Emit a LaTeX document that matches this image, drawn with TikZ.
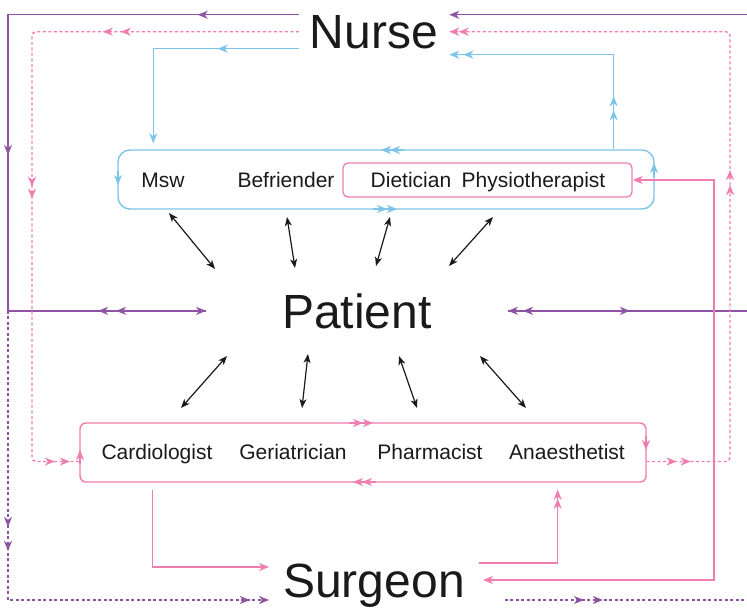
\documentclass[tikz,border=0pt]{standalone}
\usepackage{fontspec}
\setmainfont{Liberation Sans}
\usetikzlibrary{arrows.meta,calc,decorations.markings}
\definecolor{purp}{RGB}{142,84,163}
\definecolor{pnk}{RGB}{240,125,176}
\definecolor{blu}{RGB}{125,197,232}
\definecolor{ink}{RGB}{26,26,26}
\tikzset{
  ln/.style={line width=1.4pt},
  dotline/.style={dash pattern=on 3pt off 2.5pt},
  endtip/.style={-{Stealth[length=10pt,width=8pt,inset=3pt]}},
  bothtip/.style={{Stealth[length=10pt,width=8pt,inset=3pt]}-{Stealth[length=10pt,width=8pt,inset=3pt]}},
  amark/.style={postaction={decorate,decoration={markings,mark=at position #1 with {\arrow{Stealth[length=10pt,width=8pt,inset=3pt]}}}}},
  big/.style={font=\fontsize{48}{56}\selectfont, text=ink, inner ysep=0pt, anchor=base},
  lbl/.style={font=\fontsize{21}{25}\selectfont, text=ink, anchor=base, inner sep=0pt},
  bidir/.style={{Stealth[length=9pt,width=7pt,inset=2.5pt]}-{Stealth[length=9pt,width=7pt,inset=2.5pt]}, line width=1.2pt, ink},
}
\newcommand\edgetip[3]{\draw[#1, ln, endtip] (#2) -- (#3);}
\begin{document}
\begin{tikzpicture}[x=1pt,y=-1pt]
\useasboundingbox (0,0) rectangle (747,611);
% main labels
\node[big, inner xsep=11pt] (nurse) at (374,48) {Nurse};
\node[big, inner xsep=76pt] (patient) at (357,328) {Patient};
\node[big, inner xsep=14pt] (surgeon) at (374,597) {Surgeon};
% boxes
\node[draw=blu, ln, rounded corners=12pt, minimum width=536pt, minimum height=59pt, inner sep=0pt] (topbox) at (386,179.5) {};
\node[draw=pnk, line width=1.3pt, rounded corners=5pt, minimum width=289pt, minimum height=34pt, inner sep=0pt] (pinkbox) at (487.5,180) {};
\node[draw=pnk, ln, rounded corners=6pt, minimum width=566pt, minimum height=59pt, inner sep=0pt] (botbox) at (363,452.5) {};
% box labels
\node[lbl] (msw) at (163,187) {Msw};
\node[lbl] (befr) at (286,187) {Befriender};
\node[lbl] (diet) at (411,187) {Dietician};
\node[lbl] (phys) at (533.5,187) {Physiotherapist};
\node[lbl] (card) at (157,459) {Cardiologist};
\node[lbl] (geri) at (293,459) {Geriatrician};
\node[lbl] (phar) at (430,459) {Pharmacist};
\node[lbl] (anae) at (567,459) {Anaesthetist};
% helper coordinates
\coordinate (xL) at (8,0);
\coordinate (xLp) at (32,0);
\coordinate (xR) at (730,0);
\coordinate (xRp) at (714,0);
\coordinate (xE) at (747,0);
\coordinate (bL) at ($(botbox.west)+(0,9)$);
\coordinate (bR) at ($(botbox.east)+(0,9)$);
\coordinate (tB) at ($(topbox.north west)+(36,-6)$);
\coordinate (tR) at ($(topbox.north east)+(-41,0)$);
\coordinate (nSE) at ($(nurse.south east)+(0,6)$);
\coordinate (cB) at ($(botbox.south west)+(73,7)$);
\coordinate (aB) at ($(botbox.south east)+(-89,7)$);
\coordinate (sW1) at ($(surgeon.base west)+(0,-30)$);
\coordinate (sW2) at ($(surgeon.base west)+(0,3)$);
\coordinate (sE1) at ($(surgeon.base east)+(0,-34)$);
\coordinate (sE2) at ($(surgeon.base east)+(4,-17)$);
\coordinate (sE3) at ($(surgeon.base east)+(26,3)$);
% purple
\draw[purp, ln, endtip, amark=101pt, amark=431pt] (nurse.north west) -| (xL |- patient.west) -- (patient.west);
\draw[purp, ln, amark=90pt, amark=108pt] (patient.west) -- (xL |- patient.west);
\draw[purp, ln, dotline, endtip, amark=216pt, amark=240pt, amark=531pt] (xL |- patient.west) |- (sW2);
\draw[purp, ln, endtip] (xE |- nurse.north east) -- (nurse.north east);
\draw[purp, ln, endtip, amark=224pt] (xE |- patient.east) -- (patient.east);
\draw[purp, ln, amark=122pt] (patient.east) -- (xE |- patient.east);
\draw[purp, ln, dotline, amark=79pt, amark=98pt] (sE3) -- (xE |- sE3);
% pink dotted
\draw[pnk, ln, dotline, rounded corners=4pt, amark=178pt, amark=196pt, amark=420pt, amark=432pt, amark=716pt, amark=731pt] (nurse.west) -| (xLp |- bL) -- (bL);
\draw[pnk, ln, dotline, rounded corners=4pt, endtip, amark=30pt, amark=44pt, amark=358pt, amark=373pt, amark=781pt] (bR) -| (xR |- nurse.east) -- (nurse.east);
% blue
\draw[blu, ln, endtip, amark=81pt] (nurse.south west) -| (tB);
\draw[blu, ln, endtip, amark=39pt, amark=53pt, amark=245pt] (tR) |- (nSE);
% pink solid
\draw[pnk, ln, endtip] (cB) |- (sW1);
\draw[pnk, ln, endtip, amark=143pt] (sE1) -| (aB);
\draw[pnk, ln, bothtip] (sE2) -| (xRp |- pinkbox.east) -- (pinkbox.east);
% box edge tips
\edgetip{blu}{395,150}{381,150}
\edgetip{blu}{404,150}{390,150}
\edgetip{blu}{373,209}{387,209}
\edgetip{blu}{383,209}{397,209}
\edgetip{blu}{118,171}{118,185}
\edgetip{blu}{654,177}{654,163}
\edgetip{pnk}{349,423}{363,423}
\edgetip{pnk}{359,423}{373,423}
\edgetip{pnk}{367,482}{353,482}
\edgetip{pnk}{376,482}{362,482}
\edgetip{pnk}{80,464}{80,450}
\edgetip{pnk}{646,436}{646,450}
% black double arrows
\draw[bidir] (169,213) -- (215,269);
\draw[bidir] (287,217) -- (295,268);
\draw[bidir] (390,217) -- (376,266);
\draw[bidir] (493,217) -- (449,266);
\draw[bidir] (227,356) -- (181,408);
\draw[bidir] (308,354) -- (302,408);
\draw[bidir] (399,356) -- (417,408);
\draw[bidir] (480,356) -- (526,408);
\end{tikzpicture}
\end{document}
